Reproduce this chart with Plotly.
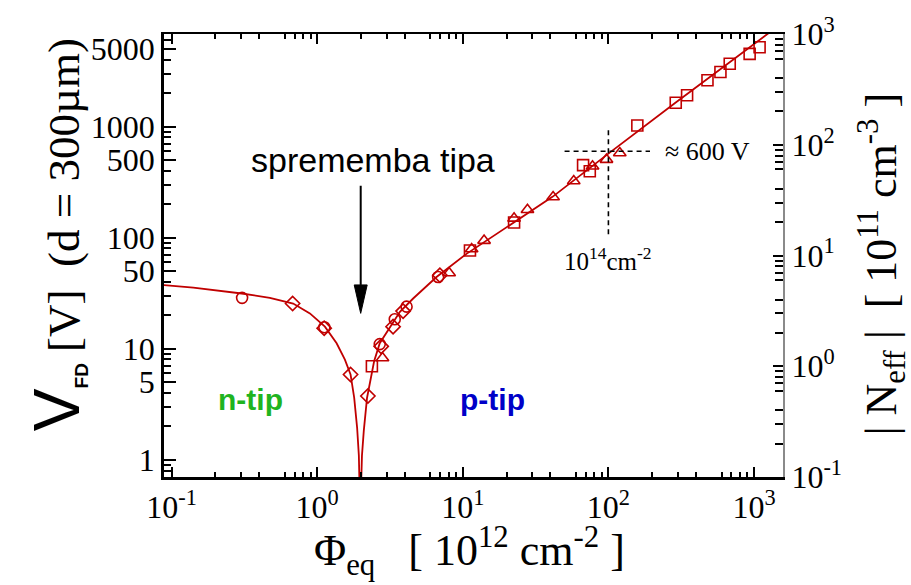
import numpy as np
import plotly.graph_objects as go

# Full depletion voltage vs. equivalent fluence (d = 300 um)
# phi in 1e12 cm^-2, V in volts
circ_phi = [0.305, 1.12, 2.69, 3.41, 4.11, 6.77]
circ_v = [28.7, 15.6, 11.0, 18.4, 23.9, 44.2]

diam_phi = [0.678, 1.117, 1.695, 2.23, 2.75, 3.32, 3.89, 6.96]
diam_v = [25.5, 15.3, 5.86, 3.75, 10.5, 15.8, 21.8, 45.8]

tri_phi = [2.81, 8.06, 11.5, 14.0, 22.5, 27.8, 41.7, 57.8, 77.8, 97.0, 119.7]
tri_v = [8.24, 48.0, 79.0, 94.0, 149, 178, 232, 323, 439, 504, 578]

sq_phi = [2.375, 11.2, 22.5, 67.0, 74.5, 158, 290, 347, 479, 588, 681, 933, 1092]
sq_v = [6.95, 76.6, 137, 449, 396, 1021, 1638, 1915, 2608, 3100, 3672, 4510, 5180]

# fitted |V_FD| curve (type inversion near phi ~ 2e12 cm^-2)
fit_phi = [0.085, 0.141, 0.303, 0.473, 0.684, 0.891, 1.13, 1.36, 1.55, 1.695, 1.795,
           1.88, 1.933, 1.975, 2.03, 2.09, 2.20, 2.33, 2.46, 2.69, 3.16, 3.70, 4.56,
           6.60, 10.6, 41.5, 100, 290, 1300]
fit_v = [37.5, 35.5, 31.4, 28.7, 25.5, 20.8, 15.8, 11.2, 7.97, 5.86, 3.62,
         1.95, 1.09, 0.3, 1.09, 1.83, 3.62, 5.47, 7.70, 11.2, 15.8, 21.5, 28.3,
         44.2, 71.4, 234, 570, 1648, 7150]

# axis ticks
x_tickvals = [0.1, 1, 10, 100, 1000]
x_ticktext = ["10<sup>-1</sup>", "10<sup>0</sup>", "10<sup>1</sup>", "10<sup>2</sup>", "10<sup>3</sup>"]
v_tickvals = [1, 5, 10, 50, 100, 500, 1000, 5000]
v_ticktext = ["1", "5", "10", "50", "100", "500", "1000", "5000"]
n_tickvals = [0.1, 1, 10, 100, 1000]
n_ticktext = ["10<sup>-1</sup>", "10<sup>0</sup>", "10<sup>1</sup>", "10<sup>2</sup>", "10<sup>3</sup>"]

# reference marks: 600 V at 1e14 cm^-2
ref_phi = 100
ref_v = 600
ref_h_phi = [50, 193]
ref_v_span = [107, 925]

# type-inversion arrow
arrow_phi = 1.99
arrow_v_top = 293
arrow_v_base = 37.5
arrow_v_tip = 20.8
arrow_half = 0.0446  # half width of the head, decades

RED = "#c00000"
SERIF = "Liberation Serif"
SANS = "Liberation Sans"

x_range = [-1.052, 3.199]
v_range = [-0.155, 3.833]
n_range = [-1.001, 3.001]

minor_vals = []
for dec in [0.1, 1, 10, 100, 1000]:
    for m in [2, 3, 4, 6, 7, 8, 9]:
        minor_vals.append(m * dec)

fig = go.Figure()

mk = dict(color=RED, size=11, line=dict(color=RED, width=1.6))

fig.add_trace(go.Scatter(x=fit_phi, y=fit_v, mode="lines",
                         line=dict(color=RED, width=1.8), showlegend=False))
fig.add_trace(go.Scatter(x=circ_phi, y=circ_v, mode="markers",
                         marker=dict(symbol="circle-open", **mk), showlegend=False))
fig.add_trace(go.Scatter(x=diam_phi, y=diam_v, mode="markers",
                         marker=dict(symbol="diamond-open", **mk), showlegend=False))
fig.add_trace(go.Scatter(x=tri_phi, y=tri_v, mode="markers",
                         marker=dict(symbol="triangle-up-open", **mk), showlegend=False))
fig.add_trace(go.Scatter(x=sq_phi, y=sq_v, mode="markers",
                         marker=dict(symbol="square-open", **mk), showlegend=False))

# dashed crosshair at (1e14 cm^-2, 600 V)
dash = dict(color="black", width=1.6, dash="5px,4px")
fig.add_trace(go.Scatter(x=ref_h_phi, y=[ref_v, ref_v], mode="lines", line=dash,
                         showlegend=False, hoverinfo="skip"))
fig.add_trace(go.Scatter(x=[ref_phi, ref_phi], y=ref_v_span, mode="lines", line=dash,
                         showlegend=False, hoverinfo="skip"))

# arrow pointing at the type inversion
fig.add_trace(go.Scatter(x=[arrow_phi, arrow_phi], y=[arrow_v_top, arrow_v_base], mode="lines",
                         line=dict(color="black", width=2), showlegend=False, hoverinfo="skip"))
head_x = [arrow_phi * 10 ** (-arrow_half), arrow_phi * 10 ** arrow_half, arrow_phi, arrow_phi * 10 ** (-arrow_half)]
head_y = [arrow_v_base, arrow_v_base, arrow_v_tip, arrow_v_base]
fig.add_trace(go.Scatter(x=head_x, y=head_y, mode="lines", fill="toself", fillcolor="black",
                         line=dict(color="black", width=1), showlegend=False, hoverinfo="skip"))

# secondary axes need a (hidden) trace to appear
fig.add_trace(go.Scatter(x=[1], y=[1], xaxis="x2", yaxis="y2", mode="markers",
                         marker=dict(opacity=0), showlegend=False, hoverinfo="skip"))

tickfont = dict(family=SERIF, size=32, color="black")

fig.update_layout(
    width=911, height=585,
    margin=dict(l=164, r=128, t=30, b=108, pad=0),
    paper_bgcolor="white", plot_bgcolor="white",
    showlegend=False,
    xaxis=dict(type="log", range=x_range, showgrid=False, zeroline=False,
               showline=True, linecolor="black", linewidth=2.5,
               ticks="inside", ticklen=10, tickwidth=1.8, tickcolor="black",
               tickvals=x_tickvals, ticktext=x_ticktext, tickfont=tickfont,
               minor=dict(ticks="inside", ticklen=5, tickwidth=1.5, tickcolor="black",
                          tickvals=minor_vals, showgrid=False),
               anchor="y"),
    xaxis2=dict(type="log", range=x_range, overlaying="x", side="top", anchor="y",
                showgrid=False, zeroline=False, showline=True, linecolor="black", linewidth=2,
                ticks="inside", ticklen=10, tickwidth=1.8, tickcolor="black",
                tickvals=x_tickvals, showticklabels=False,
                minor=dict(ticks="inside", ticklen=5, tickwidth=1.5, tickcolor="black",
                           tickvals=minor_vals, showgrid=False)),
    yaxis=dict(type="log", range=v_range, showgrid=False, zeroline=False,
               showline=True, linecolor="black", linewidth=2.5,
               ticks="inside", ticklen=12, tickwidth=1.8, tickcolor="black",
               tickvals=v_tickvals, ticktext=v_ticktext, tickfont=tickfont,
               minor=dict(ticks="inside", ticklen=7, tickwidth=1.5, tickcolor="black",
                          tickvals=minor_vals, showgrid=False),
               anchor="x"),
    yaxis2=dict(type="log", range=n_range, overlaying="y", side="right", anchor="x",
                showgrid=False, zeroline=False, showline=True, linecolor="#8a8a8a", linewidth=2,
                ticks="inside", ticklen=10, tickwidth=1.8, tickcolor="black",
                tickvals=n_tickvals, ticktext=n_ticktext, tickfont=tickfont,
                minor=dict(ticks="inside", ticklen=8, tickwidth=1.5, tickcolor="black",
                           tickvals=minor_vals, showgrid=False)),
)

annotations = [
    # left axis title
    dict(text=("<span style='font-family:Liberation Sans;font-size:64px'>V</span>"
               "<sub><span style='font-family:Liberation Sans;font-size:19px;font-weight:bold'>FD</span></sub>"
               "&nbsp;[V]&nbsp;&nbsp;(d = 300µm)"),
         xref="paper", yref="paper", x=-0.173, y=0.548, textangle=-90,
         showarrow=False, xanchor="center", yanchor="middle",
         font=dict(family=SERIF, size=45, color="black")),
    # right axis title
    dict(text="|&nbsp;N<sub>eff</sub>&nbsp;|&nbsp;&nbsp;[ 10<sup>11</sup> cm<sup>-3</sup> ]",
         xref="paper", yref="paper", x=1.159, y=0.481, textangle=-90,
         showarrow=False, xanchor="center", yanchor="middle",
         font=dict(family=SERIF, size=44, color="black")),
    # bottom axis title
    dict(text="Φ<sub>eq</sub>&nbsp;&nbsp;&nbsp;[ 10<sup>12</sup> cm<sup>-2</sup> ]",
         xref="paper", yref="paper", x=0.494, y=-0.168,
         showarrow=False, xanchor="center", yanchor="middle",
         font=dict(family=SERIF, size=44, color="black")),
    dict(text="sprememba tipa", xref="x", yref="y",
         x=np.log10(2.41), y=np.log10(500), showarrow=False,
         xanchor="center", yanchor="middle",
         font=dict(family=SANS, size=34, color="black")),
    dict(text="n-tip", xref="x", yref="y",
         x=np.log10(0.351), y=np.log10(3.5), showarrow=False,
         xanchor="center", yanchor="middle",
         font=dict(family=SANS, size=30, color="#1fb41f", weight="bold")),
    dict(text="p-tip", xref="x", yref="y",
         x=np.log10(16.1), y=np.log10(3.5), showarrow=False,
         xanchor="center", yanchor="middle",
         font=dict(family=SANS, size=30, color="#0000c8", weight="bold")),
    dict(text="≈ 600 V", xref="x", yref="y",
         x=np.log10(481), y=np.log10(ref_v), showarrow=False,
         xanchor="center", yanchor="middle",
         font=dict(family=SERIF, size=26, color="black")),
    dict(text="10<sup>14</sup>cm<sup>-2</sup>", xref="x", yref="y",
         x=np.log10(ref_phi), y=np.log10(64), showarrow=False,
         xanchor="center", yanchor="middle",
         font=dict(family=SERIF, size=25, color="black")),
]
fig.update_layout(annotations=annotations)

fig.write_html("out.html")
